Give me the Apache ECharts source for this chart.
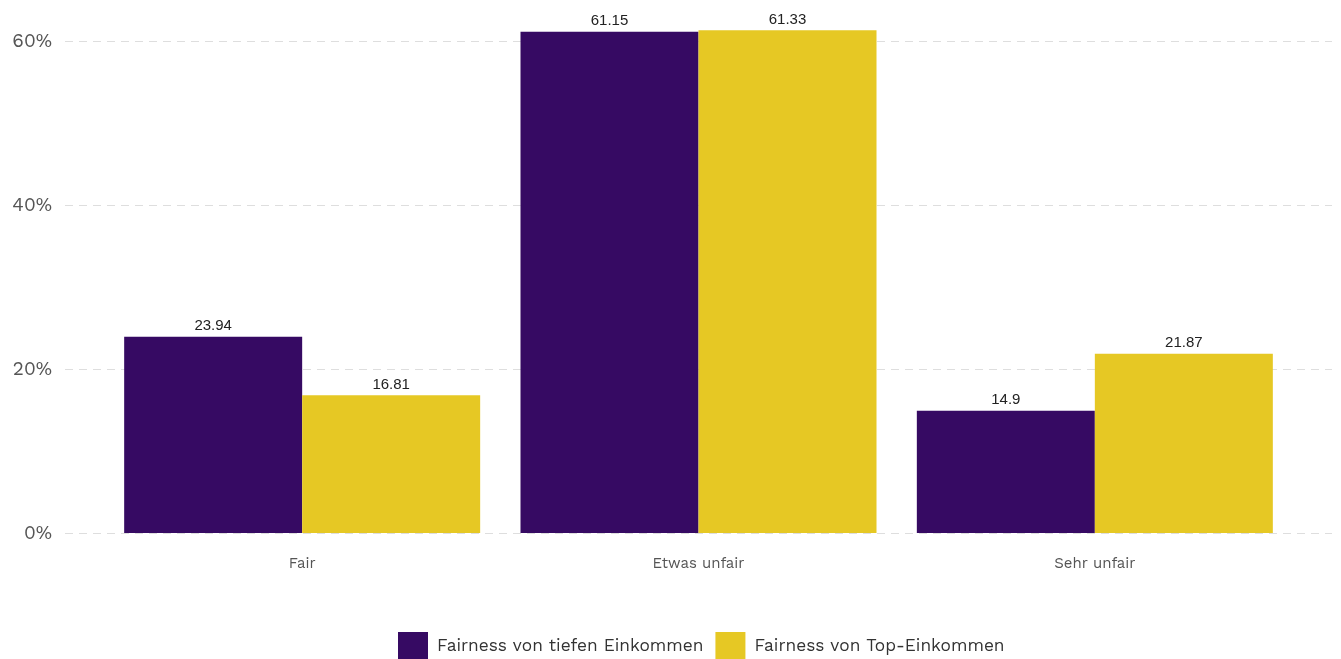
<!DOCTYPE html>
<html><head><meta charset="utf-8">
<script src="https://cdn.jsdelivr.net/npm/echarts@6/dist/echarts.min.js"></script>
<style>html,body{margin:0;padding:0;background:#fff}#c{width:1341px;height:659px}</style>
</head><body><div id="c"></div>
<script>
const categories = ['Fair', 'Etwas unfair', 'Sehr unfair'];
const seriesNames = ['Fairness von tiefen Einkommen', 'Fairness von Top-Einkommen'];
const lowIncome = [23.94, 61.15, 14.9];
const topIncome = [16.81, 61.33, 21.87];
const yTicks = [0, 20, 40, 60];

const font = '"Work Sans", Inter, "Noto Sans", sans-serif';
const chart = echarts.init(document.getElementById('c'));
const yMax = 64.4;
const labelStyle = {show: true, position: 'top', distance: 3, fontFamily: 'Liberation Sans, Arial, sans-serif', fontSize: 15, color: '#222'};
chart.setOption({
  animation: false,
  legend: {
    bottom: -6, left: 393, itemWidth: 30, itemHeight: 28, itemGap: 12,
    icon: 'rect',
    textStyle: {fontFamily: font, fontSize: 17.3, color: '#333', padding: [0, 0, 0, 4]},
    data: seriesNames
  },
  grid: [
    {left: 104, right: 48, top: 5, bottom: 126},
    {left: 65, right: 9, top: 41, bottom: 126}
  ],
  xAxis: [
    {type: 'category', data: categories, gridIndex: 0,
     axisLine: {show: false}, axisTick: {show: false},
     axisLabel: {fontFamily: font, fontSize: 15, color: '#555', margin: 23}},
    {type: 'value', gridIndex: 1, show: false, min: 0, max: 1}
  ],
  yAxis: [
    {type: 'value', gridIndex: 0, min: 0, max: yMax, show: false,
     splitLine: {show: false}},
    {type: 'value', gridIndex: 1, min: 0, max: 60, interval: 20,
     axisLine: {show: false}, axisTick: {show: false},
     axisLabel: {fontFamily: font, fontSize: 19, color: '#555', margin: 13,
       formatter: v => yTicks.includes(v) ? v + '%' : ''},
     splitLine: {show: true, lineStyle: {color: '#dedede', type: [8, 6], width: 1}}}
  ],
  series: [
    {name: seriesNames[0], type: 'bar', xAxisIndex: 0, yAxisIndex: 0, data: lowIncome,
     barWidth: 178, barGap: '0%', itemStyle: {color: '#360A63'}, label: labelStyle},
    {name: seriesNames[1], type: 'bar', xAxisIndex: 0, yAxisIndex: 0, data: topIncome,
     barWidth: 178, barGap: '0%', itemStyle: {color: '#E6C824'}, label: labelStyle},
    {type: 'line', xAxisIndex: 1, yAxisIndex: 1, data: [], silent: true}
  ]
});
</script></body></html>
